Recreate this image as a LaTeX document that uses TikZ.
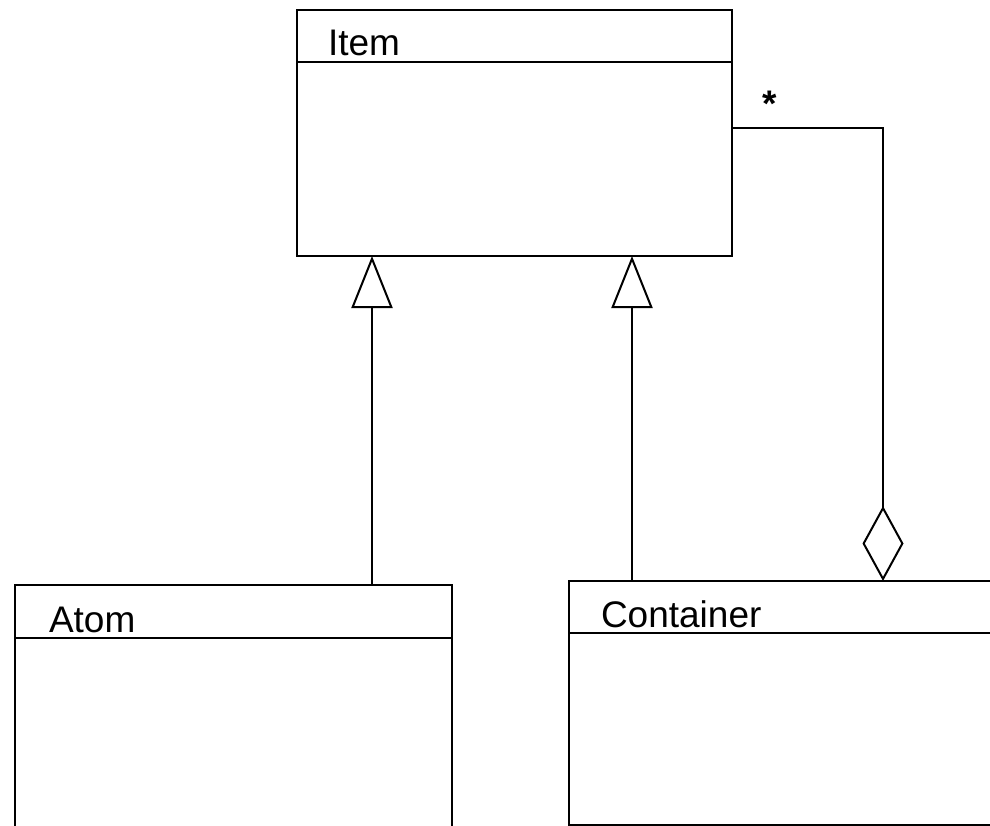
\documentclass[tikz,border=0pt]{standalone}
\usepackage{fontspec}
\setmainfont{Liberation Sans}
\usetikzlibrary{arrows.meta}
\begin{document}
\begin{tikzpicture}[x=1pt,y=-1pt,line width=2pt,
  classbox/.style={draw,line width=2pt,anchor=north west,inner sep=0pt,outer sep=0pt},
  classtitle/.style={font=\fontsize{37}{44}\selectfont,anchor=base west,inner sep=0pt},
  gen/.style={-{Triangle[open,length=52pt,width=41pt]}},
  agg/.style={-{Diamond[open,length=75pt,width=41pt]}},
  mult/.style={font=\fontsize{37}{44}\selectfont\bfseries,inner sep=0pt}]
\useasboundingbox (0,0) rectangle (990,826);
\clip (0,0) rectangle (990,826);
\fill[white] (0,0) rectangle (990,826);
% classes
\node[classbox,minimum width=435pt,minimum height=246pt] (item) at (297,10) {};
\node[classbox,minimum width=437pt,minimum height=365pt] (atom) at (15,585) {};
\node[classbox,minimum width=531pt,minimum height=243.5pt] (container) at (569,581) {};
% dividers
\draw ([yshift=-52pt]item.north west) -- ([yshift=-52pt]item.north east);
\draw ([yshift=-53pt]atom.north west) -- ([yshift=-53pt]atom.north east);
\draw ([yshift=-52pt]container.north west) -- ([yshift=-52pt]container.north east);
% titles
\node[classtitle] (itemtitle) at (327,56) {Item};
\node[classtitle] (atomtitle) at (48,632) {Atom};
\node[classtitle] (containertitle) at (600,627) {Container};
% generalizations
\coordinate (g1) at (372,256);
\coordinate (g2) at (632,256);
\draw[gen] (g1 |- atom.north) -- (g1 |- item.south);
\draw[gen] (g2 |- container.north) -- (g2 |- item.south);
% aggregation
\coordinate (aggturn) at (883,128);
\draw[agg] (aggturn -| item.east) -- (aggturn) -- (aggturn |- container.north);
\node[mult] (star) at (770,104) {*};
\end{tikzpicture}
\end{document}
